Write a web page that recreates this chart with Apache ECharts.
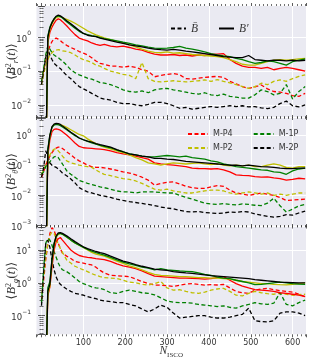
<!DOCTYPE html>
<html>
<head>
<meta charset="utf-8">
<script src="https://cdn.jsdelivr.net/npm/echarts@6.0.0/dist/echarts.min.js"></script>
<style>
html,body{margin:0;padding:0;background:#ffffff;}
#chart{width:315px;height:360px;}
</style>
</head>
<body>
<div id="chart"></div>
<script>
// ---------------- data ----------------
const N_ISCO = [0,5,10,15,20,25,30,35,40,45,50,
  60,70,80,90,100,110,120,130,140,150,
  165,180,195,210,225,240,255,270,285,300,315,330,345,360,375,390,405,420,435,450,465,480,495,510,525,540,555,570,585,600,615,630];

const MODELS = ['M-P4', 'M-P2', 'M-1P', 'M-2P'];
const LEGEND_ROW1 = ['M-P4', 'M-1P'];
const LEGEND_ROW2 = ['M-P2', 'M-2P'];
const FIELD_LEGEND = ['B\u0304', 'B\u2032'];

// <B_r^2>  mean (dashed)
const br_bar_P4 = [0.05,0.1,0.2,0.35,0.55,0.75,0.9,0.95,0.88,0.8,0.7,
  0.58,0.5,0.44,0.38,0.34,0.3,0.25,0.2,0.17,0.16,
  0.14,0.14,0.13,0.14,0.13,0.11,0.1,0.068,0.075,0.08,0.085,0.078,0.06,0.058,0.062,0.065,0.068,0.07,0.065,0.05,0.042,0.035,0.031,0.034,0.039,0.03,0.025,0.024,0.022,0.019,0.018,0.022];
const br_bar_P2 = [0.04,0.08,0.15,0.22,0.3,0.35,0.4,0.42,0.43,0.42,0.4,
  0.38,0.35,0.3,0.25,0.22,0.2,0.18,0.15,0.14,0.12,
  0.1,0.09,0.08,0.075,0.06,0.18,0.06,0.05,0.048,0.05,0.052,0.05,0.048,0.05,0.052,0.055,0.05,0.056,0.05,0.045,0.04,0.035,0.031,0.035,0.044,0.04,0.05,0.055,0.05,0.06,0.07,0.078];
const br_bar_1P = [0.05,0.12,0.3,0.55,0.45,0.35,0.3,0.27,0.25,0.22,0.2,
  0.15,0.11,0.09,0.078,0.07,0.062,0.058,0.052,0.046,0.044,
  0.04,0.034,0.028,0.025,0.024,0.026,0.023,0.028,0.03,0.031,0.028,0.026,0.024,0.022,0.021,0.023,0.02,0.019,0.021,0.018,0.017,0.016,0.016,0.02,0.028,0.025,0.02,0.022,0.04,0.015,0.025,0.035];
const br_bar_2P = [0.04,0.1,0.25,0.45,0.3,0.22,0.17,0.15,0.13,0.12,0.1,
  0.075,0.06,0.045,0.035,0.03,0.026,0.022,0.019,0.016,0.015,
  0.014,0.012,0.011,0.011,0.01,0.0095,0.0105,0.012,0.012,0.011,0.0095,0.008,0.0085,0.0075,0.008,0.0085,0.009,0.0085,0.009,0.0095,0.009,0.0095,0.0088,0.009,0.0082,0.0078,0.0085,0.011,0.013,0.0095,0.0088,0.01];
// <B_r^2>  fluctuation (solid)
const br_prime_P4 = [null,null,1e-4,0.7,1.4,2.0,2.6,3.2,3.5,3.3,2.9,
  2.2,1.6,1.2,0.95,0.85,0.78,0.68,0.62,0.58,0.62,
  0.55,0.52,0.55,0.5,0.45,0.42,0.36,0.32,0.3,0.3,0.31,0.29,0.3,0.28,0.3,0.29,0.31,0.32,0.33,0.22,0.17,0.14,0.13,0.13,0.12,0.13,0.11,0.12,0.13,0.12,0.11,0.1];
const br_prime_P2 = [null,null,1e-4,0.8,1.7,2.5,3.2,3.8,4.1,4.0,3.8,
  3.4,3.0,2.6,2.2,1.85,1.55,1.35,1.18,1.06,0.96,
  0.85,0.76,0.68,0.6,0.52,0.45,0.39,0.36,0.35,0.37,0.34,0.35,0.33,0.31,0.3,0.29,0.28,0.27,0.25,0.22,0.19,0.16,0.15,0.15,0.17,0.19,0.21,0.22,0.21,0.22,0.23,0.24];
const br_prime_1P = [null,null,1e-4,1.1,2.0,2.8,3.5,4.1,4.3,4.1,3.7,
  2.9,2.3,1.85,1.5,1.3,1.2,1.12,1.06,0.98,0.92,
  0.85,0.79,0.72,0.66,0.6,0.56,0.51,0.48,0.47,0.48,0.5,0.54,0.48,0.45,0.41,0.37,0.33,0.3,0.28,0.27,0.24,0.22,0.19,0.17,0.18,0.2,0.19,0.17,0.15,0.19,0.21,0.23];
const br_prime_2P = [null,null,1e-4,1.0,1.9,2.7,3.5,4.2,4.5,4.3,3.9,
  3.1,2.5,2.0,1.6,1.3,1.15,1.08,1.05,0.95,0.88,
  0.8,0.72,0.66,0.6,0.56,0.52,0.48,0.45,0.43,0.42,0.44,0.42,0.39,0.37,0.35,0.33,0.31,0.29,0.27,0.26,0.25,0.25,0.29,0.22,0.21,0.2,0.21,0.21,0.2,0.21,0.2,0.21];

// <B_theta^2> mean (dashed)
const bt_bar_P4 = [0.04,0.06,0.1,0.15,0.2,0.26,0.32,0.37,0.4,0.4,0.36,
  0.28,0.22,0.17,0.14,0.12,0.1,0.09,0.085,0.085,0.082,
  0.075,0.068,0.06,0.055,0.048,0.04,0.032,0.022,0.025,0.027,0.028,0.024,0.02,0.018,0.017,0.017,0.019,0.021,0.02,0.015,0.012,0.011,0.01,0.011,0.012,0.011,0.01,0.0085,0.0068,0.007,0.0072,0.0075];
const bt_bar_P2 = [0.05,0.07,0.1,0.15,0.22,0.3,0.34,0.35,0.3,0.25,0.2,
  0.14,0.12,0.11,0.1,0.095,0.09,0.085,0.07,0.058,0.05,
  0.045,0.04,0.036,0.034,0.03,0.025,0.02,0.016,0.015,0.016,0.014,0.013,0.012,0.012,0.013,0.014,0.015,0.015,0.014,0.012,0.011,0.012,0.013,0.012,0.011,0.012,0.01,0.011,0.01,0.011,0.012,0.012];
const bt_bar_1P = [0.05,0.06,0.09,0.11,0.13,0.16,0.19,0.2,0.18,0.14,0.11,
  0.066,0.05,0.04,0.031,0.028,0.025,0.023,0.021,0.019,0.018,
  0.016,0.014,0.013,0.013,0.012,0.013,0.013,0.013,0.0125,0.012,0.012,0.01,0.0085,0.0075,0.0065,0.0055,0.0052,0.005,0.0053,0.005,0.0048,0.0052,0.005,0.0047,0.0046,0.0055,0.008,0.0045,0.0028,0.0035,0.0045,0.005];
const bt_bar_2P = [0.04,0.08,0.3,0.2,0.12,0.1,0.09,0.085,0.075,0.065,0.055,
  0.045,0.035,0.026,0.018,0.015,0.013,0.012,0.011,0.01,0.0095,
  0.0085,0.0075,0.0068,0.0062,0.0058,0.0054,0.005,0.0046,0.0041,0.0038,0.0036,0.0032,0.0029,0.0028,0.0029,0.0027,0.0026,0.0025,0.0026,0.0028,0.0027,0.0029,0.0028,0.0024,0.0022,0.002,0.0019,0.002,0.0023,0.0022,0.0026,0.003];
// <B_theta^2> fluctuation (solid)
const bt_prime_P4 = [null,null,1e-5,0.2,0.7,1.3,1.55,1.6,1.55,1.45,1.3,
  1.0,0.75,0.55,0.42,0.38,0.37,0.36,0.35,0.34,0.33,
  0.3,0.26,0.24,0.22,0.2,0.18,0.16,0.12,0.11,0.105,0.1,0.095,0.09,0.08,0.078,0.077,0.075,0.077,0.07,0.06,0.048,0.046,0.045,0.042,0.04,0.041,0.038,0.036,0.032,0.034,0.037,0.035];
const bt_prime_P2 = [null,null,1e-5,0.25,0.9,1.8,2.25,2.35,2.3,2.2,2.1,
  1.8,1.5,1.25,1.05,0.95,0.75,0.62,0.52,0.45,0.4,
  0.35,0.3,0.26,0.22,0.18,0.15,0.12,0.11,0.1,0.11,0.12,0.115,0.11,0.115,0.12,0.11,0.105,0.11,0.1,0.095,0.1,0.095,0.1,0.09,0.09,0.1,0.11,0.1,0.085,0.08,0.09,0.09];
const bt_prime_1P = [null,null,1e-5,0.35,1.0,1.8,2.15,2.25,2.2,2.05,1.85,
  1.5,1.2,0.95,0.8,0.7,0.62,0.55,0.5,0.46,0.42,
  0.38,0.32,0.28,0.24,0.22,0.2,0.19,0.19,0.2,0.21,0.2,0.19,0.2,0.18,0.17,0.16,0.14,0.13,0.11,0.1,0.09,0.085,0.08,0.075,0.07,0.068,0.06,0.058,0.05,0.065,0.075,0.08];
const bt_prime_2P = [null,null,1e-5,0.3,1.0,1.9,2.3,2.45,2.4,2.25,2.0,
  1.6,1.25,1.0,0.8,0.7,0.63,0.58,0.52,0.48,0.45,
  0.4,0.33,0.28,0.24,0.22,0.2,0.19,0.17,0.17,0.16,0.155,0.145,0.135,0.13,0.125,0.12,0.115,0.11,0.105,0.1,0.1,0.095,0.1,0.095,0.09,0.088,0.085,0.08,0.078,0.077,0.08,0.08];

// <B_phi^2> mean (dashed)
const bp_bar_P4 = [0.3,1.2,5,15,32,48,40,25,16,11,8,
  6.5,5.5,4.5,4.2,4.0,3.7,3.5,3.0,2.4,2.0,
  1.7,1.65,1.6,1.55,1.3,1.1,0.95,0.86,0.85,0.82,0.78,0.85,0.92,0.95,0.9,0.85,0.88,0.86,0.9,0.7,0.55,0.5,0.48,0.6,0.65,0.68,0.62,0.58,0.55,0.52,0.45,0.38];
const bp_bar_P2 = [0.3,1.5,6,15,28,35,32,22,15,11,8.5,
  5,4,3.2,2.8,2.5,2.2,1.9,1.7,1.55,1.45,
  1.4,1.35,1.2,1.05,1.0,0.9,0.86,0.95,1.1,0.7,0.6,0.62,0.55,0.5,0.48,0.52,0.6,0.65,0.68,0.55,0.42,0.4,0.48,0.55,0.5,0.47,0.45,0.48,0.45,0.42,0.44,0.45];
const bp_bar_1P = [0.25,2.5,16,22,20,14,9,6,4,3,2.5,
  2.2,1.8,1.4,1.1,0.95,0.85,0.75,0.7,0.68,0.62,
  0.5,0.48,0.55,0.6,0.55,0.5,0.48,0.43,0.35,0.28,0.26,0.25,0.25,0.24,0.22,0.21,0.2,0.19,0.2,0.18,0.17,0.2,0.22,0.25,0.23,0.22,0.24,0.5,0.22,0.2,0.25,0.3];
const bp_bar_2P = [0.2,2,15,20,12,5,2.5,1.5,1.1,0.9,0.8,
  0.65,0.55,0.48,0.45,0.42,0.38,0.35,0.33,0.3,0.28,
  0.27,0.25,0.25,0.22,0.2,0.16,0.13,0.16,0.21,0.18,0.12,0.085,0.09,0.095,0.1,0.1,0.09,0.085,0.085,0.09,0.1,0.11,0.17,0.07,0.066,0.065,0.07,0.12,0.13,0.13,0.12,0.1];
// <B_phi^2> fluctuation (solid)
const bp_prime_P4 = [null,null,1e-3,0.4,0.75,3,10,18,22,24,20,
  14,10,8,6.8,6.3,6.0,5.8,5.5,5.3,5.1,
  4.5,3.8,3.3,3.0,2.7,2.3,1.9,1.6,1.55,1.5,1.45,1.4,1.4,1.38,1.35,1.3,1.35,1.45,1.55,1.2,0.95,0.8,0.7,0.62,0.6,0.58,0.55,0.5,0.48,0.45,0.42,0.38];
const bp_prime_P2 = [null,null,1e-3,0.45,0.8,4,13,24,30,32,30,
  25,20,16.5,14,12,10,8.5,7.5,7.0,6.5,
  5.5,4.6,3.9,3.3,2.9,2.5,2.1,1.8,1.7,1.65,1.6,1.55,1.55,1.5,1.45,1.45,1.4,1.4,1.35,1.3,1.2,1.1,1.05,1.0,0.95,0.95,0.9,0.88,0.87,0.9,0.95,1.0];
const bp_prime_1P = [null,null,1e-3,0.7,1.1,5.5,16,26,31,32,30,
  25,20,16.5,14,12,10.5,9.2,8.3,7.6,7.0,
  6.0,5.0,4.3,3.8,3.4,3.0,2.8,2.5,2.7,2.5,2.4,2.3,2.25,2.2,2.0,1.8,1.7,1.5,1.4,1.35,1.2,1.1,1.0,0.88,0.9,0.95,1.0,1.05,1.0,0.95,0.92,0.9];
const bp_prime_2P = [null,null,1e-3,0.55,0.9,5,15,27,33,34,32,
  27,22,18,15,12.5,11,10,9,8.3,7.8,
  6.5,5.5,4.6,4.1,3.6,3.2,2.9,2.6,2.5,2.4,2.2,2.1,2.0,1.95,1.85,1.75,1.65,1.6,1.55,1.5,1.45,1.4,1.35,1.25,1.2,1.15,1.1,1.05,1.04,1.02,1.0,1.0];

// ---------------- styling / layout ----------------
const COLOR = {'M-P4': '#ff0000', 'M-P2': '#bfbf00', 'M-1P': '#008000', 'M-2P': '#000000'};
const TXT = '#333333';
const SERIF = 'Liberation Serif, DejaVu Serif, serif';
const SANS = 'DejaVu Sans, sans-serif';

const PANELS = [
  {comp: 'r', sub: 'r', bar: [br_bar_P4, br_bar_P2, br_bar_1P, br_bar_2P], prime: [br_prime_P4, br_prime_P2, br_prime_1P, br_prime_2P], lo: -2.355, hi: 0.925, top: 6, h: 111},
  {comp: 'theta', sub: '\u03b8', bar: [bt_bar_P4, bt_bar_P2, bt_bar_1P, bt_bar_2P], prime: [bt_prime_P4, bt_prime_P2, bt_prime_1P, bt_prime_2P], lo: -3, hi: 0.567, top: 118, h: 107.5},
  {comp: 'phi', sub: '\u03c6', bar: [bp_bar_P4, bp_bar_P2, bp_bar_1P, bp_bar_2P], prime: [bp_prime_P4, bp_prime_P2, bp_prime_1P, bp_prime_2P], lo: -1.566, hi: 1.70, top: 227, h: 107.3}
];

function logLabel(v) {
  const e = Math.log10(v);
  const r = Math.round(e);
  if (Math.abs(e - r) > 1e-6) return '';
  return '{b|10}{s|' + (r < 0 ? '\u2212' + (-r) : String(r)) + '}';
}

const yLabelRich = {
  b: {fontSize: 8.5, fontFamily: SANS, color: TXT, lineHeight: 13, verticalAlign: 'bottom'},
  s: {fontSize: 6, fontFamily: SANS, color: TXT, lineHeight: 6, verticalAlign: 'top'}
};

const grids = [], xAxes = [], yAxes = [], series = [];

PANELS.forEach((p, i) => {
  grids.push({left: 36.5, right: 9, top: p.top, height: p.h, show: true, backgroundColor: '#EAEAF2', borderWidth: 0, containLabel: false, outerBoundsMode: 'none'});
  const isLast = i === PANELS.length - 1;
  const xCommon = {
    gridIndex: i, type: 'value', min: -12, max: 632, splitNumber: 6,
    axisLine: {show: false},
    axisTick: {show: true, inside: false, length: 3, lineStyle: {color: TXT, width: 0.8}},
    minorTick: {show: true, splitNumber: 10, length: 2, lineStyle: {color: TXT, width: 0.7}},
    nameMoveOverlap: false
  };
  xAxes.push(Object.assign({}, xCommon, {
    position: 'bottom',
    splitLine: {show: true, showMinLine: false, showMaxLine: false, lineStyle: {color: '#ffffff', width: 1}},
    axisLabel: {show: isLast, margin: 5, fontSize: 8, fontFamily: SANS, color: TXT, showMinLabel: false, showMaxLabel: false,
      formatter: v => (v > 0 && v % 100 === 0) ? String(v) : ''},
    name: isLast ? '{n|N}{s|ISCO}' : '',
    nameLocation: 'middle', nameGap: 11,
    nameTextStyle: {rich: {
      n: {fontSize: 11.5, fontFamily: SERIF, fontStyle: 'italic', color: TXT, lineHeight: 13, verticalAlign: 'top'},
      s: {fontSize: 7, fontFamily: SERIF, color: TXT, lineHeight: 8, verticalAlign: 'bottom'}
    }}
  }));
  xAxes.push(Object.assign({}, xCommon, {
    position: 'top', splitLine: {show: false}, axisLabel: {show: false}
  }));
  const yCommon = {
    gridIndex: i, type: 'log', logBase: 10, min: Math.pow(10, p.lo), max: Math.pow(10, p.hi),
    axisLine: {show: false},
    axisTick: {show: true, inside: false, length: 3.5, lineStyle: {color: TXT, width: 0.8}},
    minorTick: {show: true, splitNumber: 9, length: 2, lineStyle: {color: TXT, width: 0.7}},
    nameMoveOverlap: false
  };
  yAxes.push(Object.assign({}, yCommon, {
    position: 'left',
    splitLine: {show: true, showMinLine: false, showMaxLine: false, lineStyle: {color: '#ffffff', width: 1}},
    axisLabel: {show: true, margin: 5.5, formatter: logLabel, rich: yLabelRich, showMinLabel: true, showMaxLabel: true},
    name: '{p|\u27e8}{i|B}{sp|2}{sb|' + p.sub + '}{p|(}{i|t}{p|)\u27e9}',
    nameLocation: 'middle', nameGap: 17, nameRotate: 90,
    nameTextStyle: {rich: {
      p: {fontSize: 12.5, fontFamily: SERIF, color: TXT, lineHeight: 15},
      i: {fontSize: 12.5, fontFamily: SERIF, fontStyle: 'italic', color: TXT, lineHeight: 15},
      sp: {fontSize: 8, fontFamily: SERIF, color: TXT, lineHeight: 7, verticalAlign: 'top'},
      sb: {fontSize: 8, fontFamily: SERIF, fontStyle: 'italic', color: TXT, lineHeight: 7, verticalAlign: 'bottom'}
    }}
  }));
  yAxes.push(Object.assign({}, yCommon, {
    position: 'right', splitLine: {show: false}, axisLabel: {show: false}
  }));

  const addSeries = (arrs, dashed) => {
    MODELS.forEach((m, k) => {
      let name = m + (dashed ? ' B\u0304 ' : ' B\u2032 ') + p.comp;
      if (i === 0 && m === 'M-2P') name = dashed ? FIELD_LEGEND[0] : FIELD_LEGEND[1];
      if (i === 1 && dashed) name = m;
      series.push({
        type: 'line', name: name,
        xAxisIndex: 2 * i, yAxisIndex: 2 * i,
        data: N_ISCO.map((x, j) => [x, arrs[k][j]]),
        symbol: 'none', showSymbol: false, clip: true, connectNulls: false,
        lineStyle: {color: COLOR[m], width: 1.3, type: dashed ? [4, 2.5] : 'solid'},
        itemStyle: {color: COLOR[m]},
        z: dashed ? 2 : 3,
        emphasis: {disabled: true}
      });
    });
  };
  addSeries(p.bar, true);
  addSeries(p.prime, false);
});

const hiddenSymbol = {color: 'rgba(0,0,0,0)', borderColor: 'rgba(0,0,0,0)', borderWidth: 0};
const option = {
  animation: false,
  backgroundColor: '#ffffff',
  grid: grids, xAxis: xAxes, yAxis: yAxes, series: series,
  legend: [
    {data: FIELD_LEGEND, left: 165, top: 17.5, itemWidth: 15, itemHeight: 8, itemGap: 20, selectedMode: false,
      itemStyle: hiddenSymbol,
      textStyle: {fontSize: 11.5, fontFamily: SERIF, fontStyle: 'italic', color: TXT}},
    {data: LEGEND_ROW1, left: 182, top: 125, itemWidth: 20, itemHeight: 8, itemGap: 20, selectedMode: false,
      itemStyle: hiddenSymbol,
      textStyle: {fontSize: 8, fontFamily: SANS, color: TXT}},
    {data: LEGEND_ROW2, left: 182, top: 139, itemWidth: 20, itemHeight: 8, itemGap: 20, selectedMode: false,
      itemStyle: hiddenSymbol,
      textStyle: {fontSize: 8, fontFamily: SANS, color: TXT}}
  ]
};

const chart = echarts.init(document.getElementById('chart'), null, {renderer: 'canvas', width: 315, height: 360});
chart.setOption(option);
</script>
</body>
</html>
